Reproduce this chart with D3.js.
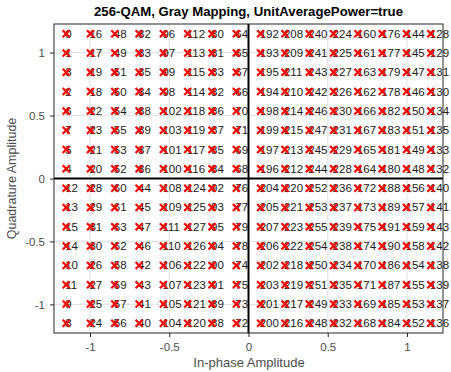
<!DOCTYPE html>
<html>
<head>
<meta charset="utf-8">
<script src="https://cdn.jsdelivr.net/npm/d3@7"></script>
<style>
  html, body { margin: 0; padding: 0; background: #fff; }
  svg { display: block; font-family: "Liberation Sans", Arial, sans-serif; }
</style>
</head>
<body>
<svg id="chart" width="451" height="372"></svg>
<script>
// 256-QAM constellation levels (odd integers) before unit-average-power scaling
const levels = [-15, -13, -11, -9, -7, -5, -3, -1, 1, 3, 5, 7, 9, 11, 13, 15];
const avgPower = 170;            // mean |s|^2 of the square 256-QAM grid
const axisLimit = 16;            // axis reaches one half-step past the outer points
// Symbol index at each grid point: rows from top (Q high) to bottom, columns left (I low) to right
const symbolLabels = [
  [0, 16, 48, 32, 96, 112, 80, 64, 192, 208, 240, 224, 160, 176, 144, 128],
  [1, 17, 49, 33, 97, 113, 81, 65, 193, 209, 241, 225, 161, 177, 145, 129],
  [3, 19, 51, 35, 99, 115, 83, 67, 195, 211, 243, 227, 163, 179, 147, 131],
  [2, 18, 50, 34, 98, 114, 82, 66, 194, 210, 242, 226, 162, 178, 146, 130],
  [6, 22, 54, 38, 102, 118, 86, 70, 198, 214, 246, 230, 166, 182, 150, 134],
  [7, 23, 55, 39, 103, 119, 87, 71, 199, 215, 247, 231, 167, 183, 151, 135],
  [5, 21, 53, 37, 101, 117, 85, 69, 197, 213, 245, 229, 165, 181, 149, 133],
  [4, 20, 52, 36, 100, 116, 84, 68, 196, 212, 244, 228, 164, 180, 148, 132],
  [12, 28, 60, 44, 108, 124, 92, 76, 204, 220, 252, 236, 172, 188, 156, 140],
  [13, 29, 61, 45, 109, 125, 93, 77, 205, 221, 253, 237, 173, 189, 157, 141],
  [15, 31, 63, 47, 111, 127, 95, 79, 207, 223, 255, 239, 175, 191, 159, 143],
  [14, 30, 62, 46, 110, 126, 94, 78, 206, 222, 254, 238, 174, 190, 158, 142],
  [10, 26, 58, 42, 106, 122, 90, 74, 202, 218, 250, 234, 170, 186, 154, 138],
  [11, 27, 59, 43, 107, 123, 91, 75, 203, 219, 251, 235, 171, 187, 155, 139],
  [9, 25, 57, 41, 105, 121, 89, 73, 201, 217, 249, 233, 169, 185, 153, 137],
  [8, 24, 56, 40, 104, 120, 88, 72, 200, 216, 248, 232, 168, 184, 152, 136]
];
const xTicks = [-1, -0.5, 0, 0.5, 1];
const yTicks = [-1, -0.5, 0, 0.5, 1];
const xTickLabels = ["-1", "-0.5", "0", "0.5", "1"];
const yTickLabels = ["-1", "-0.5", "0", "0.5", "1"];
const titleText = "256-QAM, Gray Mapping, UnitAveragePower=true";
const xLabelText = "In-phase Amplitude";
const yLabelText = "Quadrature Amplitude";

const norm = Math.sqrt(avgPower);
const lim = axisLimit / norm;

const box = { left: 54, right: 443, top: 24, bottom: 333 };
const svg = d3.select("#chart");

const x = d3.scaleLinear().domain([-lim, lim]).range([box.left, box.right]);
const y = d3.scaleLinear().domain([-lim, lim]).range([box.bottom, box.top]);

// grid lines
const grid = svg.append("g");
grid.selectAll("line.gx").data(xTicks).join("line")
  .attr("x1", d => x(d)).attr("x2", d => x(d))
  .attr("y1", box.top).attr("y2", box.bottom)
  .attr("stroke", "#e1e1e1").attr("stroke-width", 1);
grid.selectAll("line.gy").data(yTicks).join("line")
  .attr("y1", d => y(d)).attr("y2", d => y(d))
  .attr("x1", box.left).attr("x2", box.right)
  .attr("stroke", "#e1e1e1").attr("stroke-width", 1);

// axes through the origin
svg.append("line")
  .attr("x1", x(0)).attr("x2", x(0)).attr("y1", box.top).attr("y2", box.bottom)
  .attr("stroke", "#000").attr("stroke-width", 2);
svg.append("line")
  .attr("y1", y(0)).attr("y2", y(0)).attr("x1", box.left).attr("x2", box.right)
  .attr("stroke", "#000").attr("stroke-width", 2);

// bottom and left axes
const xAxis = d3.axisBottom(x).tickValues(xTicks)
  .tickFormat((d, i) => xTickLabels[i]).tickSizeInner(4).tickSizeOuter(0).tickPadding(6);
const yAxis = d3.axisLeft(y).tickValues(yTicks)
  .tickFormat((d, i) => yTickLabels[i]).tickSizeInner(4).tickSizeOuter(0).tickPadding(5);

const gx = svg.append("g").attr("transform", `translate(0,${box.bottom})`).call(xAxis);
const gy = svg.append("g").attr("transform", `translate(${box.left},0)`).call(yAxis);
[gx, gy].forEach(g => {
  g.select(".domain").remove();
  g.selectAll(".tick line").attr("stroke", "#262626");
  g.selectAll(".tick text").attr("fill", "#4d4d4d").attr("font-size", 11.5)
    .attr("font-family", "Liberation Sans, Arial, sans-serif");
});

// box
svg.append("rect")
  .attr("x", box.left).attr("y", box.top)
  .attr("width", box.right - box.left).attr("height", box.bottom - box.top)
  .attr("fill", "none").attr("stroke", "#262626").attr("stroke-width", 1);

// constellation points
const points = [];
symbolLabels.forEach((row, r) => {
  row.forEach((lab, c) => {
    points.push({ i: levels[c] / norm, q: levels[levels.length - 1 - r] / norm, label: lab });
  });
});

svg.append("g").selectAll("text").data(points).join("text")
  .attr("x", d => x(d.i) - 1)
  .attr("y", d => y(d.q) + 4)
  .attr("font-size", 11.5)
  .attr("fill", "#1a1a1a")
  .text(d => d.label);

const m = 3.5;
const marks = svg.append("g").selectAll("g").data(points).join("g")
  .attr("transform", d => `translate(${x(d.i)},${y(d.q)})`);
marks.append("path")
  .attr("d", `M${-m},${-m}L${m},${m}M${-m},${m}L${m},${-m}`)
  .attr("stroke", "#ff0000").attr("stroke-width", 2.2).attr("fill", "none");

// titles
svg.append("text").attr("x", 248.5).attr("y", 16)
  .attr("text-anchor", "middle").attr("font-weight", "bold").attr("font-size", 13)
  .attr("textLength", 309).attr("lengthAdjust", "spacingAndGlyphs")
  .attr("fill", "#000").text(titleText);
svg.append("text").attr("x", 249).attr("y", 367)
  .attr("text-anchor", "middle").attr("font-size", 13)
  .attr("fill", "#4d4d4d").text(xLabelText);
svg.append("text")
  .attr("transform", `translate(16,${(box.top + box.bottom) / 2}) rotate(-90)`)
  .attr("text-anchor", "middle").attr("font-size", 12.5)
  .attr("fill", "#4d4d4d").text(yLabelText);
</script>
</body>
</html>
